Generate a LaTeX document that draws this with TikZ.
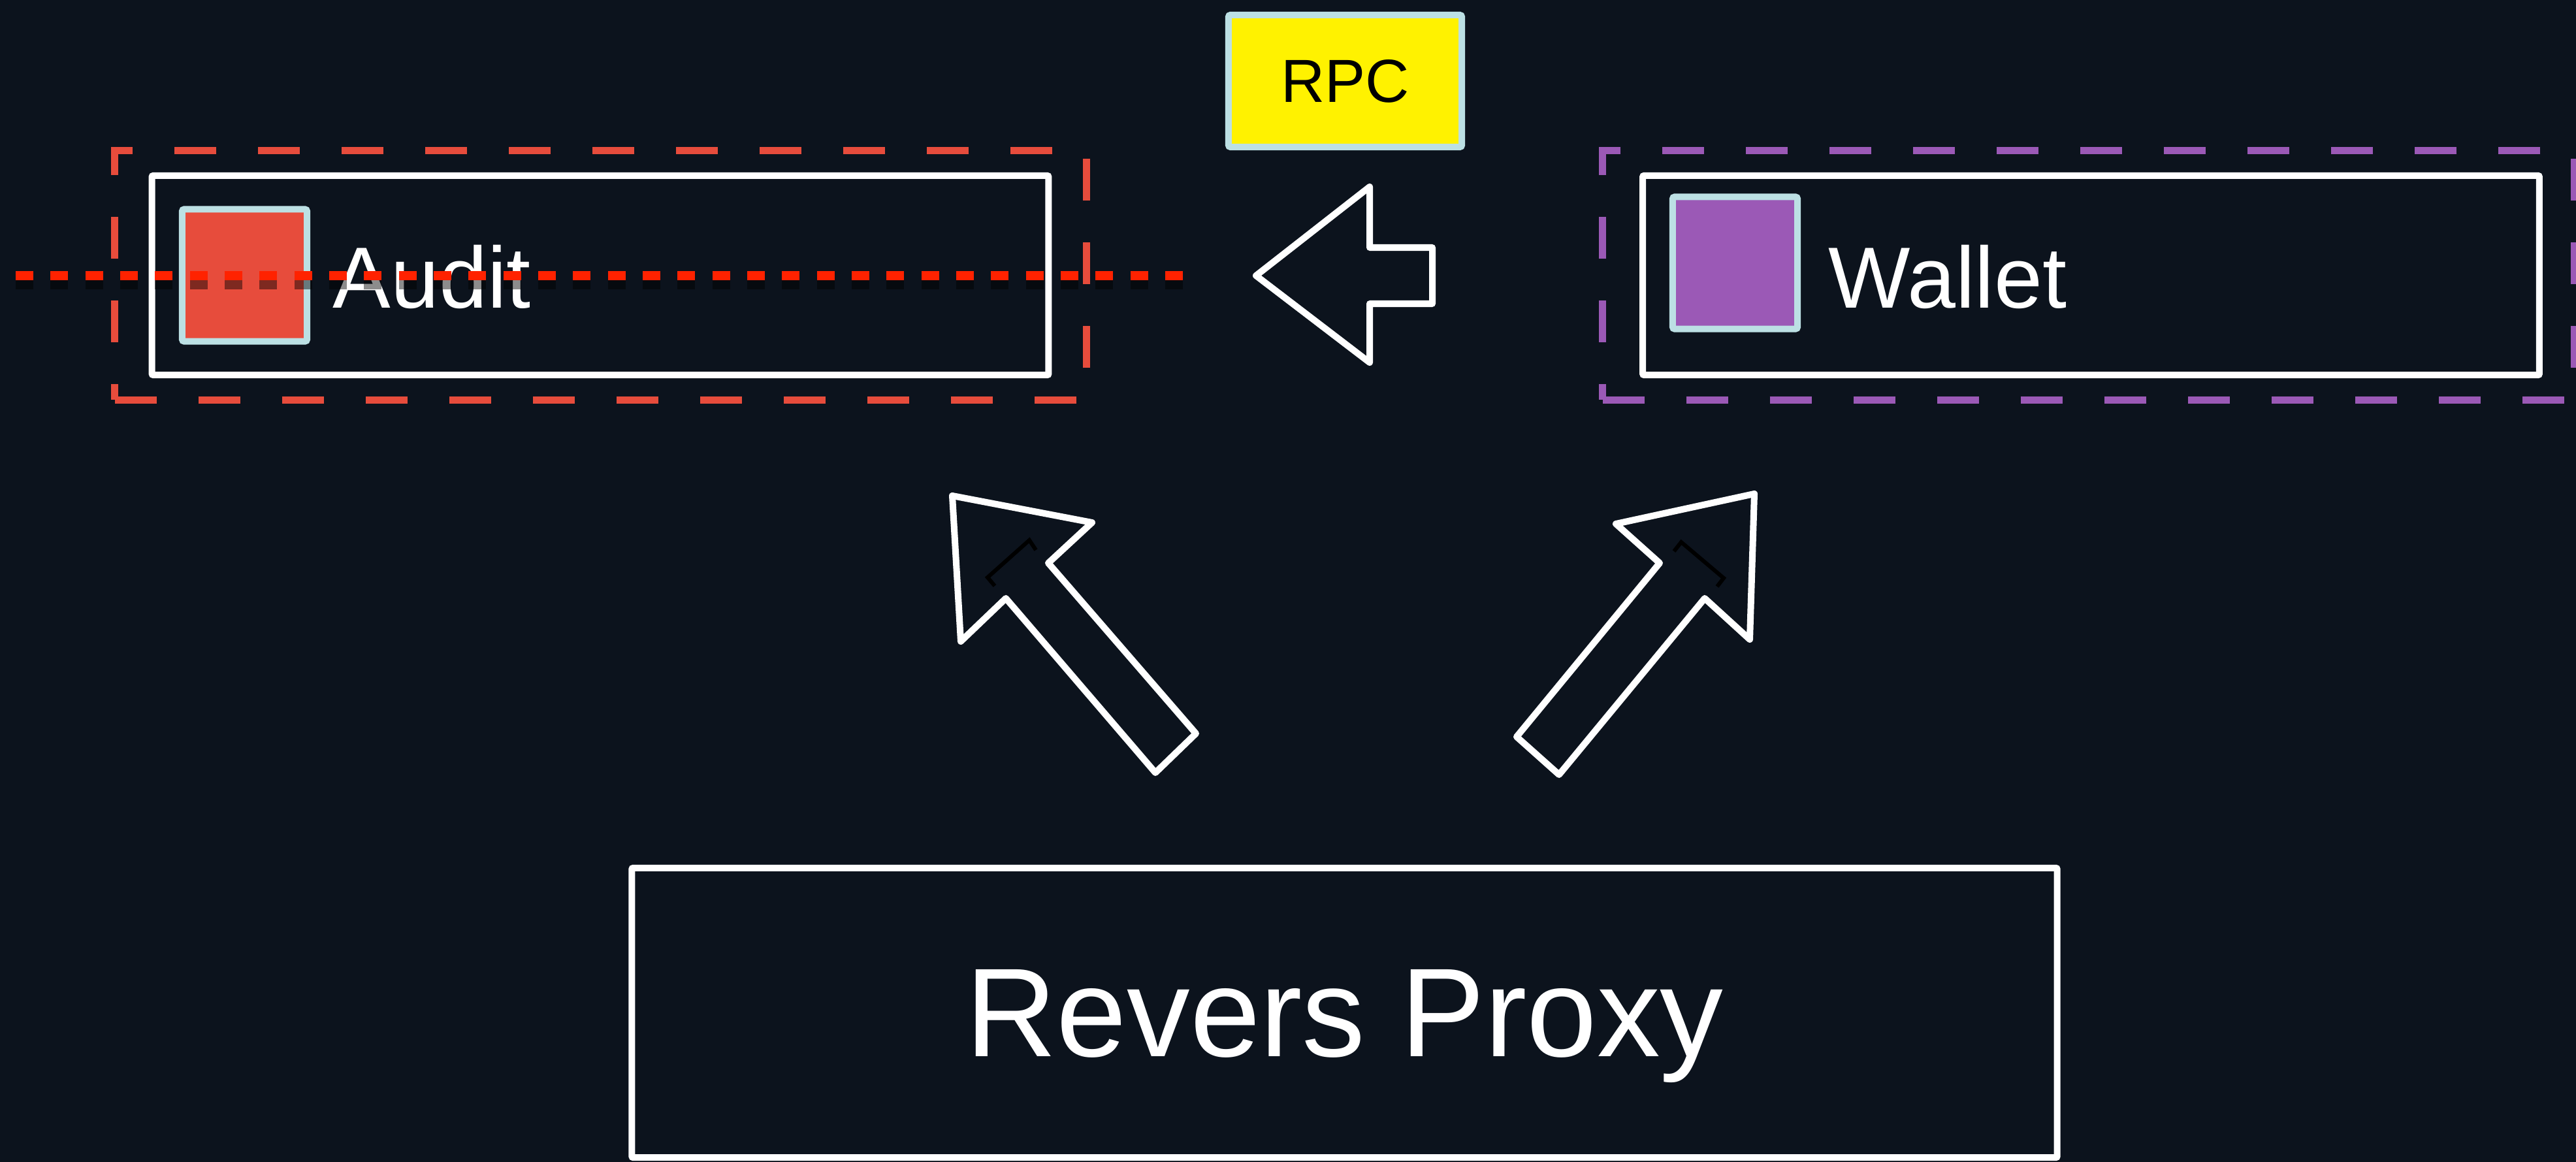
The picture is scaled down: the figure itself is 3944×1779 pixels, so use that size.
\documentclass[tikz,border=0pt]{standalone}
\usepackage{fontspec}
\setmainfont{Liberation Sans}
\usepackage{tikz}
\usetikzlibrary{positioning}
\definecolor{bgdark}{HTML}{0C131D}
\definecolor{paleblue}{HTML}{BCE0E4}
\definecolor{auditred}{HTML}{E74C3C}
\definecolor{walletpurple}{HTML}{9B59B6}
\definecolor{dotred}{HTML}{FF2200}

\begin{document}
\begin{tikzpicture}[x=0.01cm,y=-0.01cm,
    box/.style={draw=white, line width=0.1cm, rounded corners=0.02cm, minimum width=13.72cm, minimum height=3.05cm, inner sep=0pt},
    zone/.style={line width=0.11cm, dash pattern=on 0.64cm off 0.64cm, minimum width=14.87cm, minimum height=3.81cm, inner sep=0pt},
    swatch/.style={draw=paleblue, line width=0.1cm, rounded corners=0.03cm, minimum width=1.91cm, minimum height=2.02cm, inner sep=0pt},
    lbl/.style={text=white, font=\fontsize{37.8}{40}\selectfont, inner sep=0pt, anchor=base west},
    blockarrow/.style={draw=white, line width=0.1cm, line join=round},
    tipmark/.style={draw=black, line width=0.06cm},
    dotline/.style={draw=dotred, line width=0.13cm, dash pattern=on 0.27cm off 0.263cm},
    dotshadow/.style={draw=black, opacity=0.45, line width=0.17cm, dash pattern=on 0.27cm off 0.263cm}]
            \fill[bgdark] (0,0) rectangle (3944,1779);
            \useasboundingbox (0,0) rectangle (3944,1779);
            % services
            \node[zone, draw=auditred] (auditzone) at (919.5,421.5) {};
            \node[box] (audit) at (919,421.5) {};
            \node[swatch, fill=auditred] (auditsq) at (374.5,421.5) {};
            \node[lbl] (auditlbl) at (509,471) {Audit};
            \node[zone, draw=walletpurple] (walletzone) at (3197.5,421.5) {};
            \node[box] (wallet) at (3201.5,421.5) {};
            \node[swatch, fill=walletpurple] (walletsq) at (2656.5,402.5) {};
            \node[lbl] (walletlbl) at (2799,471) {Wallet};
            \node[swatch, fill=yellow, minimum width=3.57cm, font=\fontsize{26.5}{28}\selectfont] (rpc) at (2059.5,124) {RPC};
            \node[box, minimum width=21.81cm, minimum height=4.43cm, text=white, text depth=0pt, font=\fontsize{55}{60}\selectfont] (proxy) at (2058.5,1550.5) {Revers Proxy};
            % block arrows
            \draw[blockarrow] (1923,422) -- (2097,286) -- (2097,379) -- (2193,379) -- (2193,465) -- (2097,465) -- (2097,555) -- cycle;
            \draw[blockarrow] (1458,759) -- (1672,800) -- (1605,862) -- (1831,1123) -- (1769,1183) -- (1540,916) -- (1471,982) -- cycle;
            \draw[blockarrow] (2686,756) -- (2679,979) -- (2610,916) -- (2387,1186) -- (2322,1128) -- (2541,862) -- (2474,802) -- cycle;
            \draw[tipmark] (1523,897) -- (1512,884) -- (1576,827) -- (1586,842);
            \draw[tipmark] (2629,898) -- (2639,885) -- (2574,830) -- (2563,844);
            % red dotted line over audit
            \coordinate (dotstart) at (24,422);
            \coordinate (dotend) at (1812,422);
            \draw[dotshadow] ([yshift=-0.12cm]dotstart) -- ([yshift=-0.12cm]dotend);
            \draw[dotline] (dotstart) -- (dotend);
        \end{tikzpicture}
\end{document}
